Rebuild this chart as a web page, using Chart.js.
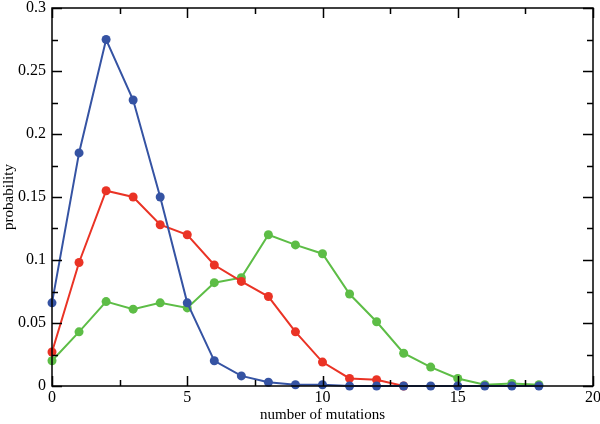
<!DOCTYPE html>
<html>
<head>
<meta charset="utf-8">
<script src="https://cdn.jsdelivr.net/npm/chart.js@4"></script>
<style>
  html, body { margin: 0; padding: 0; background: #fff; }
  #wrap { width: 600px; height: 424px; }
</style>
</head>
<body>
<div id="wrap"><canvas id="grafico"></canvas></div>
<script>
// datos
const mutaciones = [0, 1, 2, 3, 4, 5, 6, 7, 8, 9, 10, 11, 12, 13, 14, 15, 16, 17, 18];
const serieAzul = [0.066, 0.185, 0.275, 0.227, 0.150, 0.066, 0.020, 0.008, 0.003, 0.001, 0.001, 0, 0, 0, 0, 0, 0, 0, 0];
const serieRoja = [0.027, 0.098, 0.155, 0.150, 0.128, 0.120, 0.096, 0.083, 0.071, 0.043, 0.019, 0.006, 0.005, 0];
const serieVerde = [0.020, 0.043, 0.067, 0.061, 0.066, 0.062, 0.082, 0.086, 0.120, 0.112, 0.105, 0.073, 0.051, 0.026, 0.015, 0.006, 0.001, 0.002, 0.001];
const ticksX = [0, 5, 10, 15, 20];
const ticksY = [0, 0.05, 0.1, 0.15, 0.2, 0.25, 0.3];

const fuente = "'Liberation Serif', 'Times New Roman', serif";

const puntos = (vals) => vals.map((v, i) => ({ x: mutaciones[i], y: v }));

// marco con ticks hacia adentro (estilo grace)
const marcoPlugin = {
  id: "marco",
  afterDatasetsDraw(chart) {
    const { ctx, chartArea: a, scales } = chart;
    const sx = scales.x, sy = scales.y;
    ctx.save();
    ctx.strokeStyle = "#000";
    ctx.lineWidth = 1.5;
    ctx.strokeRect(a.left, a.top, a.right - a.left, a.bottom - a.top);
    ctx.beginPath();
    for (let v = 0; v <= 20; v += 2.5) {
      const px = Math.round(sx.getPixelForValue(v)) + 0.5;
      const len = v % 5 === 0 ? 10 : 6;
      ctx.moveTo(px, a.bottom); ctx.lineTo(px, a.bottom - len);
      ctx.moveTo(px, a.top); ctx.lineTo(px, a.top + len);
    }
    for (let v = 0; v <= 0.3001; v += 0.025) {
      const py = Math.round(sy.getPixelForValue(v)) + 0.5;
      const major = Math.abs(v / 0.05 - Math.round(v / 0.05)) < 1e-6;
      const len = major ? 10 : 6;
      ctx.moveTo(a.left, py); ctx.lineTo(a.left + len, py);
      ctx.moveTo(a.right, py); ctx.lineTo(a.right - len, py);
    }
    ctx.stroke();
    ctx.restore();
  }
};

const serie = (vals, color) => ({
  data: puntos(vals),
  borderColor: color,
  backgroundColor: color,
  borderWidth: 2,
  pointRadius: 4.5,
  pointHoverRadius: 4.5,
  pointBorderWidth: 0,
  tension: 0,
  clip: 6
});

new Chart(document.getElementById("grafico"), {
  type: "line",
  data: {
    datasets: [
      serie(serieAzul, "#3553a3"),
      serie(serieRoja, "#ea3325"),
      serie(serieVerde, "#5dbd46")
    ]
  },
  options: {
    responsive: true,
    maintainAspectRatio: false,
    animation: false,
    events: [],
    layout: { padding: { left: 0, right: 7, top: 8, bottom: 0 } },
    plugins: { legend: { display: false }, tooltip: { enabled: false } },
    scales: {
      x: {
        type: "linear",
        min: 0, max: 20,
        grid: { display: false, drawTicks: false },
        border: { display: false },
        afterBuildTicks: (s) => { s.ticks = ticksX.map((v) => ({ value: v })); },
        afterFit: (s) => { s.height = 38; s.paddingLeft = 0; s.paddingRight = 0; },
        ticks: { color: "#000", font: { family: fuente, size: 16 }, padding: 2, maxRotation: 0, callback: (v) => String(v) },
        title: { display: true, text: "number of mutations", color: "#000", font: { family: fuente, size: 15 }, padding: 0 }
      },
      y: {
        min: 0, max: 0.3,
        grid: { display: false, drawTicks: false },
        border: { display: false },
        afterBuildTicks: (s) => { s.ticks = ticksY.map((v) => ({ value: v })); },
        afterFit: (s) => { s.width = 52; s.paddingTop = 0; s.paddingBottom = 0; },
        ticks: { color: "#000", font: { family: fuente, size: 16 }, padding: 6, callback: (v) => String(+v.toFixed(3)) },
        title: { display: true, text: "probability", color: "#000", font: { family: fuente, size: 15 }, padding: 0 }
      }
    }
  },
  plugins: [marcoPlugin]
});
</script>
</body>
</html>
